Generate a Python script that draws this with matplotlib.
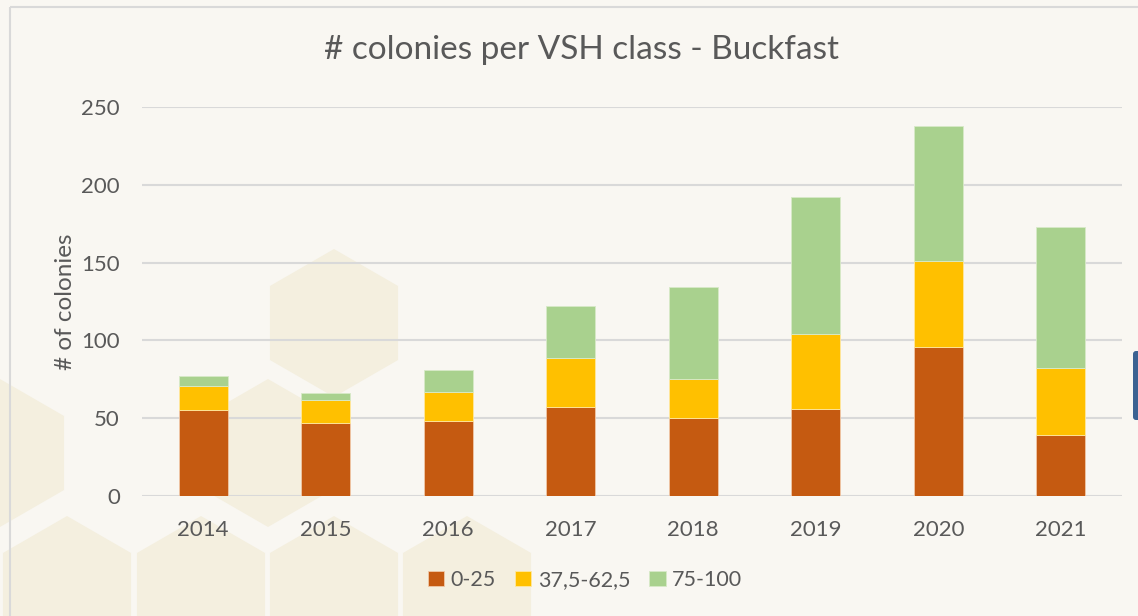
import numpy as np
import matplotlib
matplotlib.use('Agg')
import matplotlib.pyplot as plt
from matplotlib.patches import RegularPolygon, Rectangle, FancyBboxPatch

years = ['2014', '2015', '2016', '2017', '2018', '2019', '2020', '2021']
low = [55, 47, 48, 57, 50, 56, 96, 39]        # 0-25
mid = [16, 15, 19, 32, 25, 48, 55, 43]        # 37,5-62,5
high = [6, 4, 14, 33, 59, 88, 87, 91]         # 75-100
series_names = ['0-25', '37,5-62,5', '75-100']

# background honeycomb, pixel centres
hex_centres = [(334, 323), (268, 453), (0, 453), (67, 590), (201, 590),
               (334, 590), (467, 590), (134, 720), (268, 720), (400, 720)]

plt.rcParams['font.family'] = ['Lato', 'DejaVu Sans']
txt = '#595959'
W, H = 1138, 616

fig = plt.figure(figsize=(W / 100, H / 100), dpi=100)
fig.patch.set_facecolor('#F9F7F2')

# background axes in pixel units
bg = fig.add_axes([0, 0, 1, 1], zorder=0)
bg.set_xlim(0, W)
bg.set_ylim(H, 0)
bg.axis('off')
for cx, cy in hex_centres:
    bg.add_patch(RegularPolygon((cx, cy), 6, radius=74, orientation=0,
                                facecolor='#F4EFDF', edgecolor='none'))
bg.add_patch(Rectangle((10, 7), 1200, 700, facecolor='none',
                       edgecolor='#D9D9D9', linewidth=1.5))
bg.add_patch(FancyBboxPatch((1133, 351), 12, 69,
                            boxstyle='round,pad=0,rounding_size=3',
                            facecolor='#3B6292', edgecolor='none'))

ax = fig.add_axes([142 / W, 1 - 496 / H, 980 / W, 389 / H], zorder=1)
ax.set_facecolor('none')
idx = np.arange(len(years))
bw = 0.4
low_a = np.array(low)
mid_a = np.array(mid)
high_a = np.array(high)
ax.bar(idx, low_a, bw, color='#C55A11', edgecolor='#F0C8A8', linewidth=0.6,
       label=series_names[0], zorder=3)
ax.bar(idx, mid_a, bw, bottom=low_a, color='#FFC000', edgecolor='#FFE8A0',
       linewidth=0.6, label=series_names[1], zorder=3)
ax.bar(idx, high_a, bw, bottom=low_a + mid_a, color='#A9D18E',
       edgecolor='#D8EAC8', linewidth=0.6, label=series_names[2], zorder=3)

ax.set_xlim(-0.5, len(years) - 0.5)
ax.set_ylim(0, 250)
ax.set_yticks([0, 50, 100, 150, 200, 250])
ax.set_xticks(idx)
ax.set_xticklabels(years)
ax.yaxis.grid(True, color='#D9D9D9', linewidth=1.5, zorder=0)
for s in ax.spines.values():
    s.set_visible(False)
ax.tick_params(length=0, labelsize=16, colors=txt)
ax.tick_params(axis='y', pad=16)
ax.tick_params(axis='x', pad=17)
ax.set_ylabel('# of colonies', fontsize=17.5, color=txt, labelpad=4)

fig.text(581 / W, 1 - 50 / H, '# colonies per VSH class - Buckfast',
         ha='center', va='center', fontsize=24, color=txt)

leg = fig.legend(loc='center', bbox_to_anchor=(585 / W, 1 - 580 / H), ncol=3,
                 frameon=False, fontsize=15.5, handlelength=0.75, handleheight=0.75,
                 handletextpad=0.3, columnspacing=0.9, labelcolor=txt)

fig.savefig('out.png', dpi=100, facecolor=fig.get_facecolor())
